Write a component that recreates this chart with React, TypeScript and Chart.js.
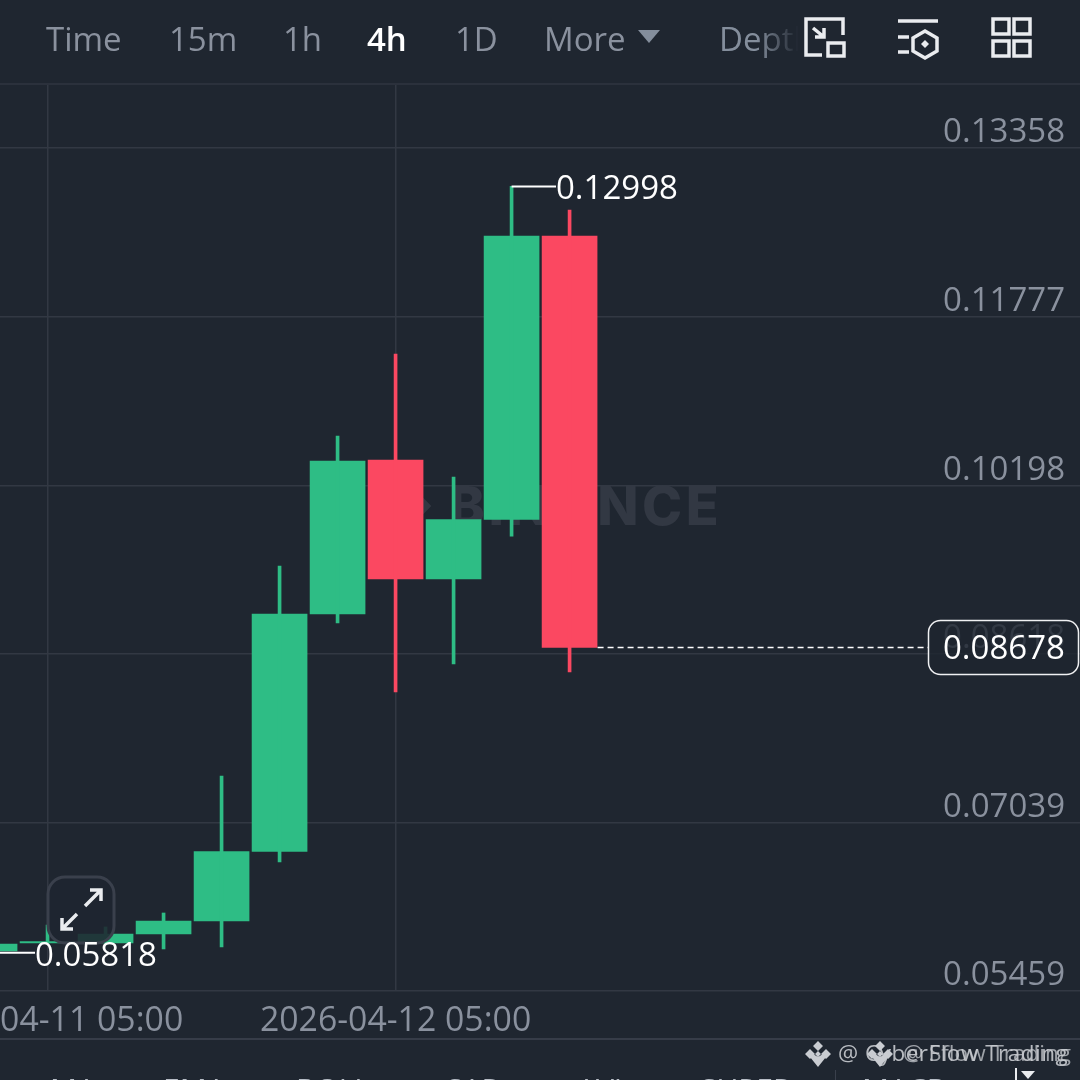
import React, { useEffect, useRef } from "react";
import { Chart, registerables } from "chart.js";

Chart.register(...registerables);

const categories = [
  "2026-04-11 01:00", "2026-04-11 05:00", "2026-04-11 09:00", "2026-04-11 13:00",
  "2026-04-11 17:00", "2026-04-11 21:00", "2026-04-12 01:00", "2026-04-12 05:00",
  "2026-04-12 09:00", "2026-04-12 13:00", "2026-04-12 17:00",
];
const opens = [0.05834, 0.05909, 0.05909, 0.05993, 0.06115, 0.06766, 0.08992, 0.10435, 0.0932, 0.09877, 0.12534];
const closes = [0.05899, 0.05923, 0.05993, 0.06115, 0.06766, 0.08992, 0.10425, 0.0932, 0.09877, 0.12534, 0.08678];
const highs = [0.05899, 0.06077, 0.06059, 0.0619, 0.07474, 0.09441, 0.1066, 0.11428, 0.10275, 0.12998, 0.12777];
const lows = [0.05834, 0.05909, 0.05909, 0.05853, 0.05871, 0.06668, 0.08907, 0.08261, 0.08523, 0.09722, 0.08448];
const priceTicks = [0.05459, 0.07039, 0.08618, 0.10198, 0.11777, 0.13358];
const timeTickIndexes = [1, 7];
const highMark = { index: 9, value: 0.12998, label: "0.12998" };
const lowMark = { index: 0, value: 0.05818, label: "0.05818" };
const lastPrice = { index: 10, value: 0.08678, label: "0.08678" };
const menuItems = [
  { text: "Time", x: 46 }, { text: "15m", x: 169 }, { text: "1h", x: 283 },
  { text: "4h", x: 367, active: true }, { text: "1D", x: 455 }, { text: "More", x: 544 },
];
const indicatorItems = [
  { text: "MA", x: 50 }, { text: "EMA", x: 163 }, { text: "BOLL", x: 296 }, { text: "SAR", x: 446 },
  { text: "AVL", x: 577 }, { text: "SUPER", x: 700 }, { text: "MACD", x: 862 },
];

const BG = "#1f2630";
const GRID = "#323843";
const GREEN = "#2ebd85";
const RED = "#fb4861";
const FONT = "'Open Sans'";

const decor = {
  id: "decor",
  beforeDatasetsDraw(chart: any) {
    const c = chart.ctx;
    c.save();
    c.fillStyle = "#323843";
    c.font = `800 54px Inter`;
    c.textBaseline = "middle";
    c.textAlign = "left";
    (c as any).letterSpacing = "3.5px";
    c.fillText("BINANCE", 449, 509);
    (c as any).letterSpacing = "0px";
    c.translate(413, 506);
    c.rotate(Math.PI / 4);
    c.fillRect(-13, -13, 26, 26);
    c.restore();
  },
  afterDatasetsDraw(chart: any) {
    const c = chart.ctx;
    const x = chart.scales.x;
    const y = chart.scales.y;
    c.save();
    // expand button
    c.beginPath();
    c.roundRect(48, 877, 66, 66, 17);
    c.fillStyle = "rgba(31,38,48,0.88)";
    c.fill();
    c.lineWidth = 3;
    c.strokeStyle = "#3a404c";
    c.stroke();
    c.strokeStyle = "#eaecef";
    c.lineWidth = 3.5;
    c.beginPath();
    c.moveTo(85, 906); c.lineTo(100, 891); c.moveTo(90, 890); c.lineTo(101, 890); c.lineTo(101, 901);
    c.moveTo(77, 914); c.lineTo(62, 929); c.moveTo(62, 918); c.lineTo(62, 929); c.lineTo(73, 929);
    c.stroke();

    c.font = `400 33px ${FONT}`;
    c.textBaseline = "middle";
    c.textAlign = "left";
    c.fillStyle = "#ffffff";
    c.strokeStyle = "#ffffff";
    c.lineWidth = 2;
    // high marker
    const hy = y.getPixelForValue(highMark.value);
    c.beginPath();
    c.moveTo(x.getPixelForValue(highMark.index), hy);
    c.lineTo(556, hy);
    c.stroke();
    c.fillText(highMark.label, 556, hy + 3);
    // low marker
    const ly = y.getPixelForValue(lowMark.value);
    c.beginPath();
    c.moveTo(x.getPixelForValue(lowMark.index), ly);
    c.lineTo(35, ly);
    c.stroke();
    c.fillText(lowMark.label, 35, ly + 4);
    // last price
    const py = y.getPixelForValue(lastPrice.value);
    c.setLineDash([6, 4]);
    c.lineWidth = 1.5;
    c.beginPath();
    c.moveTo(x.getPixelForValue(lastPrice.index) + 28, py);
    c.lineTo(928, py);
    c.stroke();
    c.setLineDash([]);
    c.beginPath();
    c.roundRect(928.5, 620.5, 150, 54, 12);
    c.fillStyle = "rgba(31,38,48,0.82)";
    c.fill();
    c.strokeStyle = "#f0f1f3";
    c.lineWidth = 1.5;
    c.stroke();
    c.fillStyle = "#ffffff";
    c.fillText(lastPrice.label, 943, py + 2);
    c.restore();
  },
};

const pageText = (text: string, x: number, y: number, size: number, color: string, extra: any = {}) => (
  <span
    key={`${text}-${x}`}
    style={{ position: "absolute", left: x, top: y, fontFamily: FONT, fontSize: size, lineHeight: `${size + 6}px`, color, whiteSpace: "nowrap", ...extra }}
  >
    {text}
  </span>
);

const Diamond = ({ x, y }: { x: number; y: number }) => (
  <svg style={{ position: "absolute", left: x, top: y }} width="28" height="28" viewBox="0 0 28 28" fill="#c9ccd1">
    <path d="M14 1l5 5-5 5-5-5zM6 9l5 5-5 5-5-5zM22 9l5 5-5 5-5-5zM14 11l3 3-3 3-3-3zM14 17l5-3 3 3-8 10-8-10 3-3z" />
  </svg>
);

export default function App() {
  const ref = useRef<HTMLCanvasElement>(null);
  useEffect(() => {
    document.body.style.margin = "0";
    const bodyColors = opens.map((o, i) => (closes[i] >= o ? GREEN : RED));
    const chart = new Chart(ref.current as HTMLCanvasElement, {
      type: "bar",
      data: {
        datasets: [
          {
            label: "Wick",
            data: categories.map((_, i) => ({ x: i, y: [lows[i], highs[i]] })) as any,
            backgroundColor: bodyColors,
            barThickness: 3,
            borderWidth: 0,
          },
          {
            label: "Body",
            data: categories.map((_, i) => ({ x: i, y: [opens[i], closes[i]] })) as any,
            backgroundColor: bodyColors,
            barThickness: 55,
            borderWidth: 0,
          },
        ],
      },
      options: {
        responsive: false,
        animation: false,
        devicePixelRatio: 1,
        grouped: false,
        layout: { padding: { top: 84, left: 0, right: 0, bottom: 0 } },
        plugins: { legend: { display: false }, tooltip: { enabled: false }, title: { display: false } },
        scales: {
          x: {
            type: "linear",
            offset: false,
            min: 0.18,
            max: 18.8,
            grid: { color: GRID, lineWidth: 1.5, drawTicks: false, offset: false },
            border: { display: false },
            afterBuildTicks: (s: any) => {
              s.ticks = timeTickIndexes.map((value) => ({ value }));
            },
            afterFit: (s: any) => {
              s.height = 89;
              s.paddingLeft = 0;
              s.paddingRight = 0;
            },
            ticks: {
              autoSkip: false,
              maxRotation: 0,
              minRotation: 0,
              padding: 10,
              color: "#8a919e",
              font: { family: FONT, size: 33.8, weight: "400" },
              callback: (v: any) => categories[v],
            },
          },
          y: {
            type: "linear",
            position: "right",
            min: 0.05459,
            max: 0.13958,
            grid: { color: GRID, lineWidth: 1.5, drawTicks: false },
            border: { display: false },
            afterBuildTicks: (s: any) => {
              s.ticks = priceTicks.map((value) => ({ value }));
            },
            afterFit: (s: any) => {
              s.width = 0;
              s.paddingTop = 0;
              s.paddingBottom = 0;
            },
            ticks: {
              mirror: true,
              padding: -15,
              labelOffset: -15,
              color: "#8a919e",
              font: { family: FONT, size: 33, weight: "400" },
              callback: (v: any) => Number(v).toFixed(5),
            },
          },
        },
      } as any,
      plugins: [decor],
    });
    return () => chart.destroy();
  }, []);

  return (
    <div style={{ position: "fixed", left: 0, top: 0, width: 1080, height: 1080, overflow: "hidden", background: BG }}>
      <canvas ref={ref} width={1080} height={1080} style={{ position: "absolute", left: 0, top: 0, display: "block" }} />
      <div style={{ position: "absolute", left: 0, top: 83, width: 1080, height: 2, background: "#2b313c" }} />
      <div style={{ position: "absolute", left: 0, top: 1038, width: 1080, height: 2, background: "#363c48" }} />
      {menuItems.map((m) =>
        pageText(m.text, m.x, 19, 33, m.active ? "#ffffff" : "#8a919e", m.active ? { fontWeight: 600 } : { fontWeight: 400 })
      )}
      {pageText("Depth", 719, 19, 33, "#848e9c", {
        width: 84,
        overflow: "hidden",
        WebkitMaskImage: "linear-gradient(90deg,#000 45%,transparent 95%)",
        maskImage: "linear-gradient(90deg,#000 45%,transparent 95%)",
      })}
      <svg style={{ position: "absolute", left: 0, top: 0 }} width="1080" height="84" fill="none" stroke="#eaecef" strokeWidth="3.5">
        <path d="M638 30h22l-11 13z" fill="#848e9c" stroke="none" />
        <path d="M843 35V19H806V55H822" />
        <rect x="828" y="43" width="16" height="13" />
        <path d="M813 28l11 9M824 28v9h-9" />
        <path d="M898 21h40M898 37h11M898 52h11" />
        <path d="M925 31l12 7v13l-12 7-12-7V38z" />
        <path d="M925 40l4 4-4 4-4-4z" fill="#eaecef" stroke="none" />
        <rect x="993" y="19" width="16" height="15" />
        <rect x="1014" y="19" width="16" height="15" />
        <rect x="993" y="41" width="16" height="15" />
        <rect x="1014" y="41" width="16" height="15" />
      </svg>
      <Diamond x={804} y={1040} />
      <Diamond x={866} y={1040} />
      {pageText("@ CyberFlow Trading", 838, 1039, 22.5, "#c9ccd1", { opacity: 0.9, letterSpacing: "0.5px" })}
      {pageText("@ Sflow Trading", 903, 1039, 22.5, "#c9ccd1", { opacity: 0.75 })}
      {indicatorItems.map((m) => pageText(m.text, m.x, 1071, 30, "#b7bdc6", { fontWeight: 500 }))}
      <div style={{ position: "absolute", left: 835, top: 1070, width: 1, height: 10, background: "#3a404c" }} />
      <div style={{ position: "absolute", left: 1015, top: 1068, width: 2, height: 12, background: "#eaecef" }} />
      <svg style={{ position: "absolute", left: 1020, top: 1068 }} width="18" height="12">
        <path d="M1 3h14l-7 8z" fill="#eaecef" />
      </svg>
    </div>
  );
}
